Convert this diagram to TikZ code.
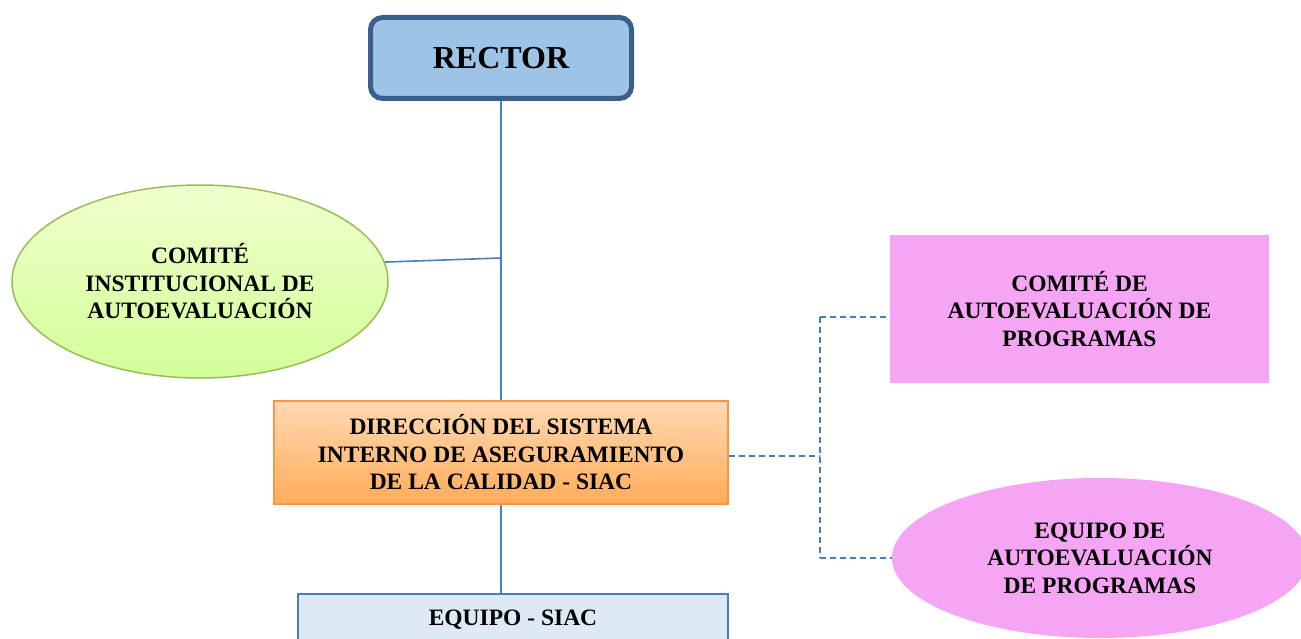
\documentclass[tikz,border=0pt]{standalone}
\usepackage{fontspec}
\setmainfont{Liberation Serif}
\usetikzlibrary{shapes.geometric}

\definecolor{rectorfill}{HTML}{9DC3E6}
\definecolor{rectordraw}{HTML}{3B5E8C}
\definecolor{linkblue}{HTML}{4A7EBB}
\definecolor{greendraw}{HTML}{9BBB59}
\definecolor{orangedraw}{HTML}{F79646}
\definecolor{pinkfill}{HTML}{F5A5F3}
\definecolor{siacfill}{HTML}{DDEAF6}

\tikzset{
  txt/.style={align=center, inner sep=0pt, font=\bfseries\fontsize{23.5}{27.5}\selectfont},
  rectorbox/.style={draw=rectordraw, fill=rectorfill, line width=5pt, rounded corners=12pt,
    minimum width=261pt, minimum height=81pt, font=\bfseries\fontsize{32}{36}\selectfont},
  greenoval/.style={txt, ellipse, draw=greendraw, line width=1.5pt,
    top color=green!6!lime!20, bottom color=green!25!lime!40!white},
  orangebox/.style={txt, draw=orangedraw, line width=1.5pt,
    top color=orange!30!white, bottom color=orange!65!white},
  siacbox/.style={txt, draw=linkblue, line width=2pt, fill=siacfill},
  pinkbox/.style={txt, fill=pinkfill},
  link/.style={draw=linkblue, line width=1.6pt},
  dashlink/.style={draw=linkblue, line width=1.8pt, dash pattern=on 6pt off 4pt}
}

\begin{document}
\begin{tikzpicture}[x=1pt, y=-1pt]
  \useasboundingbox (0,0) rectangle (1301,639);
  \clip (0,0) rectangle (1301,639);
  \fill[white] (0,0) rectangle (1301,639);

  \node[rectorbox] (rector) at (501,58) {RECTOR};
  \node[greenoval, minimum width=376pt, minimum height=193pt] (cia) at (200,281.5)
    {COMITÉ\\INSTITUCIONAL DE\\AUTOEVALUACIÓN};
  \node[orangebox, minimum width=454pt, minimum height=103pt] (siac) at (501,452.5)
    {DIRECCIÓN DEL SISTEMA\\INTERNO DE ASEGURAMIENTO\\DE LA CALIDAD - SIAC};
  \node[siacbox, minimum width=430pt, minimum height=52pt] (equipo) at (513,620) {EQUIPO - SIAC};
  \node[pinkbox, minimum width=379pt, minimum height=148pt] (cap) at (1079.5,309)
    {COMITÉ DE\\AUTOEVALUACIÓN DE\\PROGRAMAS};
  \node[pinkbox, ellipse, minimum width=416pt, minimum height=160pt] (eap) at (1100,558)
    {EQUIPO DE\\AUTOEVALUACIÓN\\DE PROGRAMAS};

  \coordinate (cj) at (501,258);
  \coordinate (dt) at (820,317);
  \coordinate (dm) at (820,456);
  \coordinate (db) at (820,558);

  \draw[link] (rector.south) -- (siac.north);
  \draw[link] (cia.6) -- (cj);
  \draw[link] (siac.south) -- (siac.south |- equipo.north);

  \draw[dashlink] (siac.east |- dm) -- (dm);
  \draw[dashlink] (dt) -- (db);
  \draw[dashlink] (dt) -- (cap.west |- dt);
  \draw[dashlink] (db) -- (eap.west);
\end{tikzpicture}
\end{document}
